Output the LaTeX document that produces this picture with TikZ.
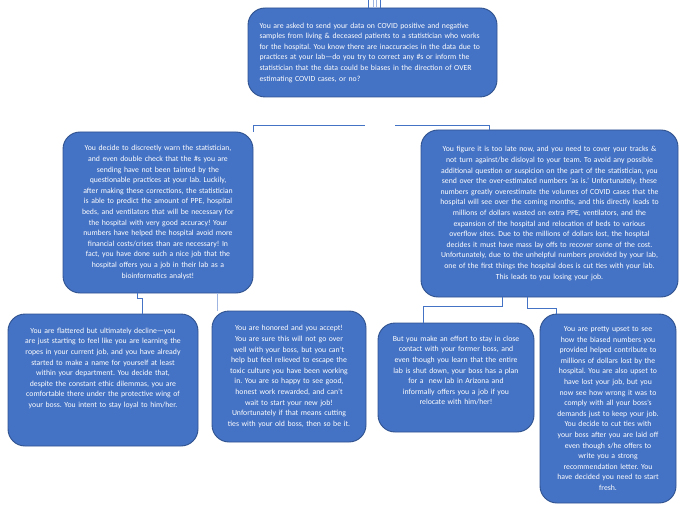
\documentclass[tikz,border=0pt]{standalone}
\usepackage{fontspec}
\setmainfont{Carlito}
\frenchspacing
\definecolor{cardfill}{HTML}{4472C4}
\definecolor{cardedge}{HTML}{2F528F}
\definecolor{linkpale}{HTML}{9DB5E0}
\begin{document}
\begin{tikzpicture}[x=1pt,y=-1pt,
    card/.style={draw=cardedge, fill=cardfill, line width=0.9pt, rounded corners=17pt,
      text=white, align=center, inner sep=0pt, font=\fontsize{7.75}{10.6}\selectfont},
    link/.style={draw=cardfill, line width=0.8pt},
    palelink/.style={draw=linkpale, line width=0.8pt}]
    \useasboundingbox (0,0) rectangle (692,518);

    \node[card, align=left, minimum width=249pt, minimum height=89pt, text width=226pt] (ask) at (372.5,52.5)
        {You are asked to send your data on COVID positive and negative\\
         samples from living \& deceased patients to a statistician who works\\
         for the hospital. You know there are inaccuracies in the data due to\\
         practices at your lab---do you try to correct any \#s or inform the\\
         statistician that the data could be biases in the direction of OVER\\
         estimating COVID cases, or no?};
    \node[card, minimum width=190pt, minimum height=161pt, text width=180pt] (warn) at (158,212.5)
        {You decide to discreetly warn the statistician,\\
         and even double check that the \#s you are\\
         sending have not been tainted by the\\
         questionable practices at your lab. Luckily,\\
         after making these corrections, the statistician\\
         is able to predict the amount of PPE, hospital\\
         beds, and ventilators that will be necessary for\\
         the hospital with very good accuracy! Your\\
         numbers have helped the hospital avoid more\\
         financial costs/crises than are necessary! In\\
         fact, you have done such a nice job that the\\
         hospital offers you a job in their lab as a\\
         bioinformatics analyst!};
    \node[card, minimum width=257pt, minimum height=167pt, text width=247pt] (cover) at (549.5,213.5)
        {You figure it is too late now, and you need to cover your tracks \&\\
         not turn against/be disloyal to your team. To avoid any possible\\
         additional question or suspicion on the part of the statistician, you\\
         send over the over-estimated numbers ‘as is.’ Unfortunately, these\\
         numbers greatly overestimate the volumes of COVID cases that the\\
         hospital will see over the coming months, and this directly leads to\\
         millions of dollars wasted on extra PPE, ventilators, and the\\
         expansion of the hospital and relocation of beds to various\\
         overflow sites. Due to the millions of dollars lost, the hospital\\
         decides it must have mass lay offs to recover some of the cost.\\
         Unfortunately, due to the unhelpful numbers provided by your lab,\\
         one of the first things the hospital does is cut ties with your lab.\\
         This leads to you losing your job.};

    \node[card, minimum width=190pt, minimum height=132pt, text width=180pt] (decline) at (103,380)
        {You are flattered but ultimately decline---you\\
         are just starting to feel like you are learning the\\
         ropes in your current job, and you have already\\
         started to make a name for yourself at least\\
         within your department. You decide that,\\
         despite the constant ethic dilemmas, you are\\
         comfortable there under the protective wing of\\
         your boss. You intent to stay loyal to him/her.\\[14pt]\mbox{}};
    \node[card, minimum width=154pt, minimum height=131pt, text width=146pt] (accept) at (289,376.5)
        {You are honored and you accept!\\
         You are sure this will not go over\\
         well with your boss, but you can’t\\
         help but feel relieved to escape the\\
         toxic culture you have been working\\
         in. You are so happy to see good,\\
         honest work rewarded, and can’t\\
         wait to start your new job!\\
         Unfortunately if that means cutting\\
         ties with your old boss, then so be it.};
    \node[card, minimum width=156pt, minimum height=109pt, text width=148pt] (relocate) at (456,377.5)
        {But you make an effort to stay in close\\
         contact with your former boss, and\\
         even though you learn that the entire\\
         lab is shut down, your boss has a plan\\
         for a\ \ new lab in Arizona and\\
         informally offers you a job if you\\
         relocate with him/her!\\[3.5pt]\mbox{}};
    \node[card, minimum width=136pt, minimum height=189pt, text width=130pt] (upset) at (608,408.5)
        {You are pretty upset to see\\
         how the biased numbers you\\
         provided helped contribute to\\
         millions of dollars lost by the\\
         hospital. You are also upset to\\
         have lost your job, but you\\
         now see how wrong it was to\\
         comply with all your boss’s\\
         demands just to keep your job.\\
         You decide to cut ties with\\
         your boss after you are laid off\\
         even though s/he offers to\\
         write you a strong\\
         recommendation letter. You\\
         have decided you need to start\\
         fresh.};

    % stubs above the question
    \coordinate (stubA) at (368,0);
    \coordinate (stubB) at (373,0);
    \coordinate (stubC) at (376,0);
    \coordinate (stubD) at (380,0);
    \draw[link] (stubA) -- (stubA |- ask.north);
    \draw[palelink] (stubB) -- (stubB |- ask.north);
    \draw[palelink] (stubC) -- (stubC |- ask.north);
    \draw[link] (stubD) -- (stubD |- ask.north);

    % first split
    \coordinate (gapL) at (365,125);
    \coordinate (gapR) at (395,125);
    \draw[link] (gapL) -| (warn.north east);
    \draw[link] (gapR) -| ([xshift=69pt]cover.north west);

    % second row
    \draw[link] ([xshift=75pt]warn.south west) -- ++(0,5) -| ([xshift=135pt]decline.north west);
    \draw[palelink] ([xshift=155pt]warn.south west) -- ([xshift=6pt]accept.north west);
    \draw[link] ([xshift=82pt]cover.south west) -- ++(0,9) -| ([xshift=46pt]relocate.north west);
    \draw[link] ([xshift=107pt]cover.south west) -- ++(0,11) -| ([xshift=17pt]upset.north west);
\end{tikzpicture}
\end{document}
